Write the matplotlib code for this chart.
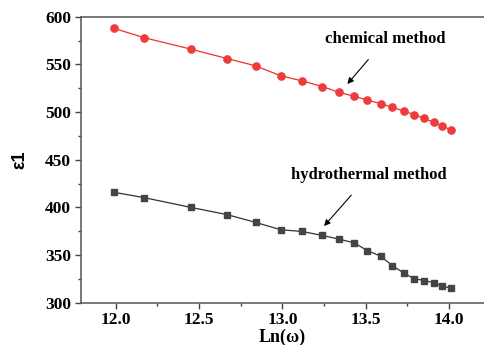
import matplotlib.pyplot as plt
from matplotlib.ticker import MultipleLocator

# data
ln_w = [11.99, 12.17, 12.45, 12.67, 12.84, 12.99, 13.12, 13.24, 13.34, 13.43,
        13.51, 13.59, 13.66, 13.73, 13.79, 13.85, 13.91, 13.96, 14.01]
eps_chem = [587.7, 578.0, 566.0, 556.0, 548.4, 538.0, 532.6, 526.7, 520.7, 516.5,
            512.6, 508.8, 505.0, 501.0, 497.2, 493.3, 489.1, 485.3, 481.4]
eps_hydro = [415.8, 410.2, 400.0, 392.3, 384.2, 376.5, 374.7, 370.5, 366.7, 362.8,
             354.7, 348.8, 338.9, 330.9, 325.3, 323.2, 321.1, 317.2, 315.5]

serif = 'Liberation Serif'

fig = plt.figure(figsize=(4.84, 3.45), dpi=100)
ax = fig.add_axes([0.167, 0.1226, 0.833, 0.829])

ax.plot(ln_w, eps_chem, '-', color='#f03030', lw=0.9,
        marker='o', ms=5.2, mfc='#ee3b3b', mec='#ee3b3b')
ax.plot(ln_w, eps_hydro, '-', color='#333333', lw=0.9,
        marker='s', ms=4.6, mfc='#444444', mec='#444444')

ax.set_xlim(11.79, 14.21)
ax.set_ylim(300, 600)
ax.xaxis.set_major_locator(MultipleLocator(0.5))
ax.xaxis.set_minor_locator(MultipleLocator(0.25))
ax.yaxis.set_major_locator(MultipleLocator(50))
ax.yaxis.set_minor_locator(MultipleLocator(25))
ax.tick_params(which='both', direction='out', color='#444444', width=1)
ax.tick_params(which='major', length=4, labelsize=12.5, pad=3)
ax.tick_params(which='minor', length=2.5)
for lab in ax.get_xticklabels() + ax.get_yticklabels():
    lab.set_fontfamily(serif)
    lab.set_fontweight('bold')

for s in ['left', 'bottom', 'top']:
    ax.spines[s].set_color('#555555')
    ax.spines[s].set_linewidth(1.1)
ax.spines['right'].set_visible(False)

ax.set_xlabel('Ln(ω)', fontfamily=serif, fontweight='bold', fontsize=13, labelpad=0)
ax.set_ylabel('ε1', fontfamily='Liberation Sans', fontweight='bold', fontsize=13, labelpad=12)

ax.annotate('chemical method', xy=(13.39, 529.4), xytext=(13.62, 576.3),
            ha='center', va='center', fontfamily=serif, fontweight='bold', fontsize=12,
            arrowprops=dict(arrowstyle='-|>', color='black', lw=0.8, shrinkA=9, shrinkB=0,
                            mutation_scale=9))
ax.annotate('hydrothermal method', xy=(13.25, 380.4), xytext=(13.52, 433.9),
            ha='center', va='center', fontfamily=serif, fontweight='bold', fontsize=12,
            arrowprops=dict(arrowstyle='-|>', color='black', lw=0.8, shrinkA=9, shrinkB=0,
                            mutation_scale=9))

plt.savefig('out.png', dpi=100)
